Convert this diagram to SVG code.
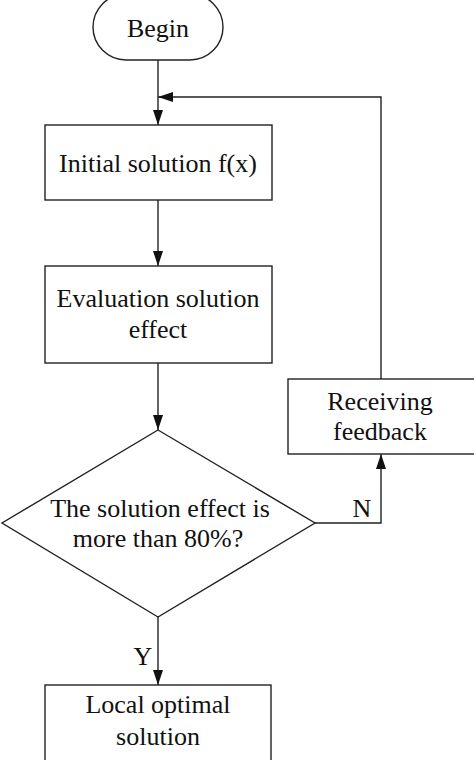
<svg xmlns="http://www.w3.org/2000/svg" width="474" height="760" viewBox="0 0 474 760">
<style>
.s{fill:#fff;stroke:#222;stroke-width:1.4}
.t{font-family:"Liberation Serif","Times New Roman",serif;font-size:26px;fill:#111;text-anchor:middle}
.c{fill:none;stroke:#222;stroke-width:1.4}
</style>
<defs>
<marker id="a" viewBox="0 0 15 10" refX="15" refY="5" markerWidth="15" markerHeight="10" markerUnits="userSpaceOnUse" orient="auto">
<path d="M0,0 L15,5 L0,10 Z" fill="#111"/>
</marker>
</defs>
<rect width="474" height="760" fill="#fff"/>
<g id="connectors">
<line class="c" x1="158" y1="60" x2="158" y2="125" marker-end="url(#a)"/>
<polyline class="c" points="381,379 381,97 158,97" marker-end="url(#a)"/>
<line class="c" x1="158" y1="200" x2="158" y2="266" marker-end="url(#a)"/>
<line class="c" x1="158" y1="363" x2="158" y2="430" marker-end="url(#a)"/>
<polyline class="c" points="315,523 381,523 381,454" marker-end="url(#a)"/>
<line class="c" x1="158" y1="617" x2="158" y2="685" marker-end="url(#a)"/>
<text class="t" x="362" y="517">N</text>
<text class="t" x="143" y="665">Y</text>
</g>
<g id="begin">
<rect class="s" x="93" y="-6" width="130" height="66" rx="33"/>
<text class="t" x="158" y="37">Begin</text>
</g>
<g id="initial">
<rect class="s" x="45" y="125" width="227" height="75"/>
<text class="t" x="158" y="172">Initial solution f(x)</text>
</g>
<g id="evaluation">
<rect class="s" x="45" y="266" width="227" height="97"/>
<text class="t" x="158" y="307">Evaluation solution</text>
<text class="t" x="158" y="338">effect</text>
</g>
<g id="decision">
<polygon class="s" points="158,430 315,523 158,617 2,523"/>
<text class="t" x="160" y="517">The solution effect is</text>
<text class="t" x="158" y="547">more than 80%?</text>
</g>
<g id="feedback">
<rect class="s" x="288" y="379" width="190" height="75"/>
<text class="t" x="380" y="410">Receiving</text>
<text class="t" x="380" y="440">feedback</text>
</g>
<g id="local">
<rect class="s" x="45" y="685" width="226" height="80"/>
<text class="t" x="158" y="713">Local optimal</text>
<text class="t" x="158" y="745">solution</text>
</g>
</svg>
